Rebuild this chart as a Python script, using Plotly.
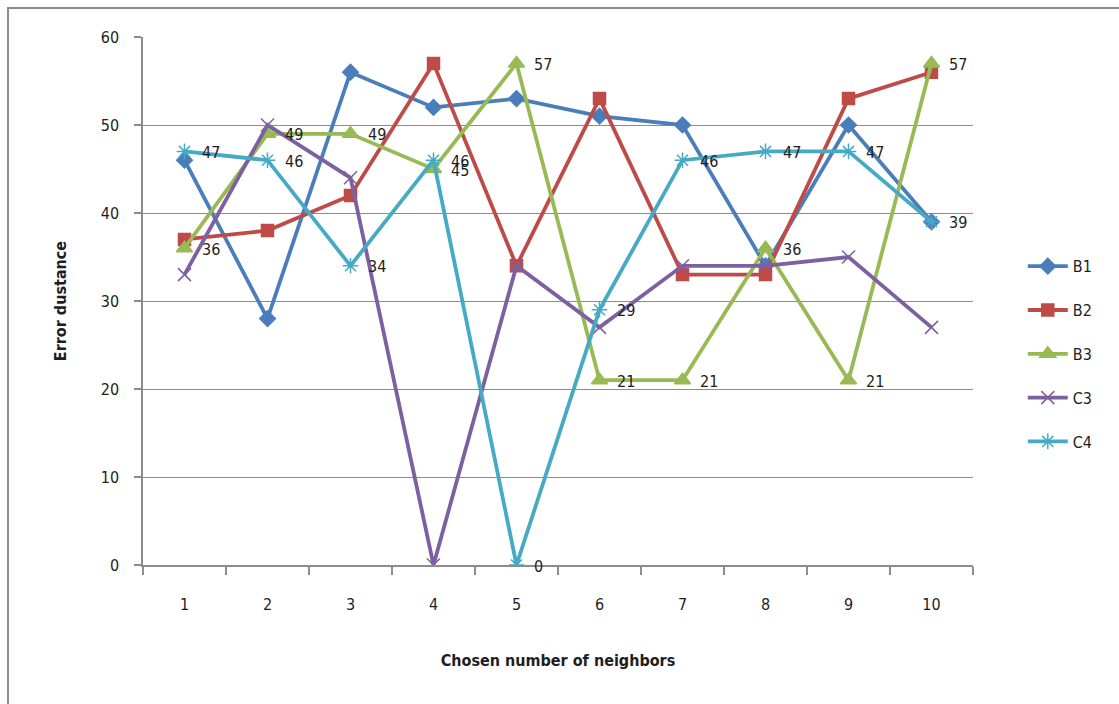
import plotly.graph_objects as go

# Chosen number of neighbors (category axis)
neighbors = [1, 2, 3, 4, 5, 6, 7, 8, 9, 10]

# Error distance per configuration
b1 = [46, 28, 56, 52, 53, 51, 50, 34, 50, 39]
b2 = [37, 38, 42, 57, 34, 53, 33, 33, 53, 56]
b3 = [36, 49, 49, 45, 57, 21, 21, 36, 21, 57]
c3 = [33, 50, 44, 0, 34, 27, 34, 34, 35, 27]
c4 = [47, 46, 34, 46, 0, 29, 46, 47, 47, 39]

y_ticks = [0, 10, 20, 30, 40, 50, 60]

series = [
    ("B1", b1, "#4A7EBB", "diamond", 12, False),
    ("B2", b2, "#BE4B48", "square", 12, False),
    ("B3", b3, "#98B954", "triangle-up", 14, True),
    ("C3", c3, "#7D60A0", "x-thin-open", 13, False),
    ("C4", c4, "#46AAC5", "asterisk-open", 13, True),
]

label_font = dict(size=16, color="#1E1E1E", family="DejaVu Sans Condensed, Noto Sans")

fig = go.Figure()
annotations = []
for name, vals, color, symbol, size, labelled in series:
    fig.add_trace(go.Scatter(
        x=neighbors, y=vals, name=name, mode="lines+markers",
        legendgroup=name,
        line=dict(color=color, width=3.8),
        marker=dict(symbol=symbol, size=size, color=color,
                    line=dict(color=color, width=1.5)),
    ))
    if labelled:
        for xv, yv in zip(neighbors, vals):
            annotations.append(dict(
                x=xv, y=yv, xref="x", yref="y", text=str(yv),
                showarrow=False, xanchor="left", yanchor="middle",
                xshift=15, yshift=-1, font=label_font,
            ))

fig.update_layout(
    width=1119, height=704,
    margin=dict(l=143, r=146, t=37, b=139),
    paper_bgcolor="white", plot_bgcolor="white",
    font=dict(family="DejaVu Sans Condensed, Noto Sans", size=16, color="#1E1E1E"),
    annotations=annotations,
    showlegend=True,
    legend=dict(x=1.06, y=0.40, xanchor="left", yanchor="middle",
                tracegroupgap=20, font=dict(size=16, color="#1E1E1E"),
                itemwidth=40, bgcolor="rgba(0,0,0,0)"),
    shapes=[dict(type="rect", xref="paper", yref="paper",
                 x0=(8 - 143) / 830, x1=(1125 - 143) / 830,
                 y0=(139 - 712) / 528, y1=(704 - 139 - 8) / 528,
                 line=dict(color="#8C8C8C", width=2), layer="below")],
)

fig.update_xaxes(
    range=[0.5, 10.5], tickvals=neighbors, ticktext=[str(n) for n in neighbors],
    ticks="", showgrid=False, zeroline=False,
    showline=True, linecolor="#8C8C8C", linewidth=1.5,
    tickfont=dict(size=16), ticklabelstandoff=24,
    minor=dict(tickvals=[n + 0.5 for n in [0] + neighbors], ticks="outside",
               ticklen=8, tickcolor="#8C8C8C", tickwidth=1.5, showgrid=False),
    title=dict(text="<b>Chosen number of neighbors</b>", font=dict(size=16),
               standoff=42),
)
fig.update_yaxes(
    range=[0, 60], tickvals=y_ticks, ticks="outside", ticklen=7,
    tickcolor="#8C8C8C", tickwidth=1.5,
    showgrid=True, gridcolor="#8C8C8C", gridwidth=1.2, zeroline=False,
    showline=True, linecolor="#8C8C8C", linewidth=1.5,
    tickfont=dict(size=16), ticklabelstandoff=12,
    title=dict(text="<b>Error dustance</b>", font=dict(size=16), standoff=30),
)

fig.write_html("out.html")
